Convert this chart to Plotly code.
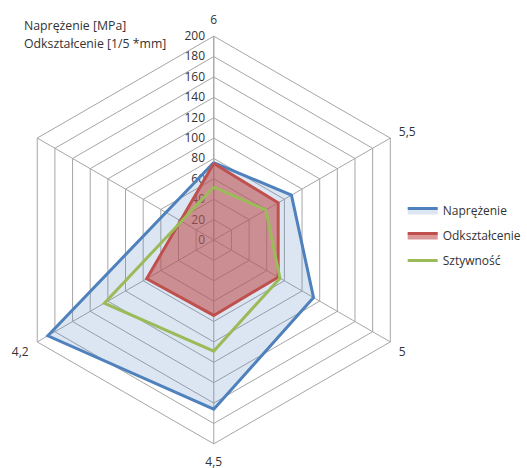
import plotly.graph_objects as go

categories = ["6", "5,5", "5", "4,5", "4,2", " "]
naprezenie = [76, 88, 113, 166, 188, None]
odksztalcenie = [75, 73, 73, 74, 76, None]
sztywnosc = [52, 59, 75, 109, 124, None]
radial_ticks = list(range(0, 201, 20))

def closed(vals):
    return vals + [vals[0]]

theta = categories + [categories[0]]

fig = go.Figure()
fig.add_trace(go.Scatterpolar(
    r=closed(naprezenie), theta=theta, name="Naprężenie", mode="lines",
    connectgaps=True, fill="toself",
    line=dict(color="#4f81bd", width=3),
    fillcolor="rgba(79,129,189,0.2)", legendgroup="a"))
fig.add_trace(go.Scatterpolar(
    r=closed(odksztalcenie), theta=theta, name="Odkształcenie", mode="lines",
    connectgaps=True, fill="toself",
    line=dict(color="#c0504d", width=3),
    fillcolor="rgba(192,80,77,0.58)", legendgroup="b"))
fig.add_trace(go.Scatterpolar(
    r=closed(sztywnosc), theta=theta, name="Sztywność", mode="lines",
    connectgaps=True,
    line=dict(color="#9bbb59", width=3), legendgroup="c"))

family = "Open Sans, Liberation Sans, sans-serif"
font = dict(family=family, size=11, color="#333333")

fig.update_layout(
    width=527, height=468,
    margin=dict(l=0, r=0, t=0, b=0),
    paper_bgcolor="white",
    font=font,
    polar=dict(
        domain=dict(x=[10/527, 420/527], y=[23/468, 433/468]),
        bgcolor="white",
        gridshape="linear",
        angularaxis=dict(
            type="category", categoryorder="array", categoryarray=categories,
            direction="clockwise", rotation=90,
            showline=True, linecolor="#a6a6a6", linewidth=1,
            gridcolor="#a6a6a6", gridwidth=1,
            ticks="outside", ticklen=7, tickcolor="rgba(0,0,0,0)",
            tickfont=dict(family=family, size=12, color="#333333"),
        ),
        radialaxis=dict(
            range=[0, 200], tickvals=radial_ticks, angle=90, tickangle=90,
            side="counterclockwise",
            showline=True, linecolor="#a6a6a6", linewidth=1,
            gridcolor="#a6a6a6", gridwidth=1,
            ticks="outside", ticklen=4, tickcolor="rgba(0,0,0,0)",
            tickfont=dict(family=family, size=12, color="#333333"),
            layer="below traces",
        ),
    ),
    legend=dict(x=405/527, y=1-196/468, xanchor="left", yanchor="top",
                tracegroupgap=6, font=dict(family=family, size=12, color="#333333"),
                bgcolor="rgba(0,0,0,0)"),
    annotations=[
        dict(text="Naprężenie [MPa]", x=22/527, y=1-25/468, xref="paper", yref="paper",
             xanchor="left", yanchor="middle", showarrow=False,
             font=dict(family=family, size=12.3, color="#333333")),
        dict(text="Odkształcenie [1/5 *mm]", x=22/527, y=1-43/468, xref="paper", yref="paper",
             xanchor="left", yanchor="middle", showarrow=False,
             font=dict(family=family, size=12.3, color="#333333")),
    ],
)

fig.write_html("out.html", config={"displayModeBar": False},
               post_script="document.body.style.margin='0';")
